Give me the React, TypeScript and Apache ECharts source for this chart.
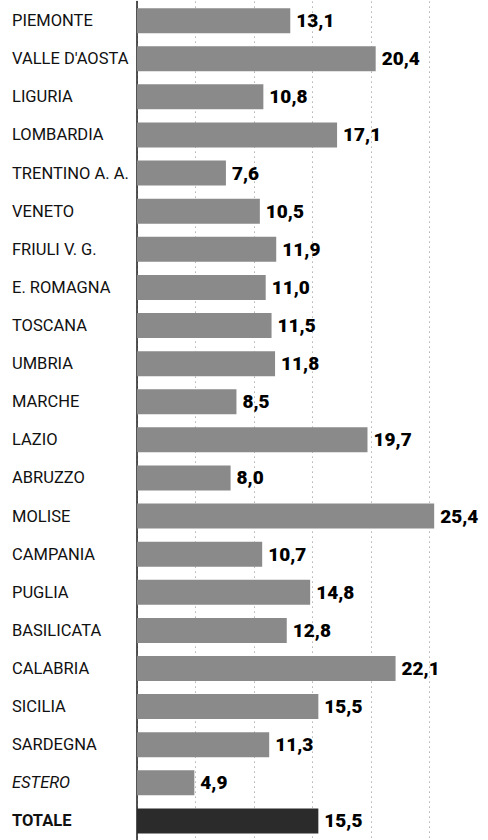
import React, { useEffect, useRef } from "react";
import * as echarts from "echarts";

const categories = [
  "PIEMONTE", "VALLE D'AOSTA", "LIGURIA", "LOMBARDIA", "TRENTINO A. A.", "VENETO",
  "FRIULI V. G.", "E. ROMAGNA", "TOSCANA", "UMBRIA", "MARCHE", "LAZIO", "ABRUZZO",
  "MOLISE", "CAMPANIA", "PUGLIA", "BASILICATA", "CALABRIA", "SICILIA", "SARDEGNA",
  "ESTERO", "TOTALE",
];
const values = [
  13.1, 20.4, 10.8, 17.1, 7.6, 10.5, 11.9, 11.0, 11.5, 11.8, 8.5, 19.7, 8.0,
  25.4, 10.7, 14.8, 12.8, 22.1, 15.5, 11.3, 4.9, 15.5,
];
const italicCategories = ["ESTERO"];
const boldCategories = ["TOTALE"];
const xMin = 0;
const xMax = 30;
const xInterval = 5;

const labelFont = "Roboto, 'Liberation Sans', sans-serif";
const valueFont = "Roboto, 'Liberation Sans', Arial, sans-serif";

export default function App() {
  const ref = useRef<HTMLDivElement>(null);
  useEffect(() => {
    if (!ref.current) return;
    const chart = echarts.init(ref.current, undefined, { renderer: "svg" });
    chart.setOption({
      animation: false,
      backgroundColor: "#ffffff",
      grid: { left: 137, right: -9, top: 1.6, bottom: -6.4, containLabel: false },
      xAxis: {
        type: "value",
        min: xMin,
        max: xMax,
        interval: xInterval,
        axisLine: { show: false },
        axisTick: { show: false },
        axisLabel: { show: false },
        splitLine: { show: true, lineStyle: { type: [1, 4], color: "#8a8a8a", width: 1 } },
      },
      yAxis: {
        type: "category",
        data: categories,
        inverse: true,
        axisTick: { show: false },
        axisLine: { show: true, lineStyle: { color: "#1a1a1a", width: 1.5 } },
        axisLabel: {
          margin: 125,
          align: "left",
          fontFamily: labelFont,
          fontSize: 16.5,
          color: "#111",
          formatter: (v: string) =>
            italicCategories.includes(v) ? `{i|${v}}` : boldCategories.includes(v) ? `{b|${v}}` : v,
          rich: {
            i: { fontStyle: "italic", fontFamily: labelFont, fontSize: 16.5, color: "#111" },
            b: { fontWeight: "bold", fontFamily: labelFont, fontSize: 16.5, color: "#111" },
          },
        },
      },
      series: [
        {
          type: "bar",
          barWidth: 25,
          data: values.map((v, i) => ({
            value: v,
            itemStyle: { color: boldCategories.includes(categories[i]) ? "#2b2b2b" : "#8a8a8a" },
          })),
          label: {
            show: true,
            position: "right",
            distance: 6,
            fontFamily: valueFont,
            fontWeight: 900,
            fontSize: 19,
            color: "#000",
            formatter: (p: any) => p.value.toFixed(1).replace(".", ","),
          },
        },
      ],
    });
    return () => chart.dispose();
  }, []);
  return (
    <div
      ref={ref}
      style={{ position: "fixed", left: 0, top: 0, width: 488, height: 840, background: "#fff" }}
    />
  );
}
